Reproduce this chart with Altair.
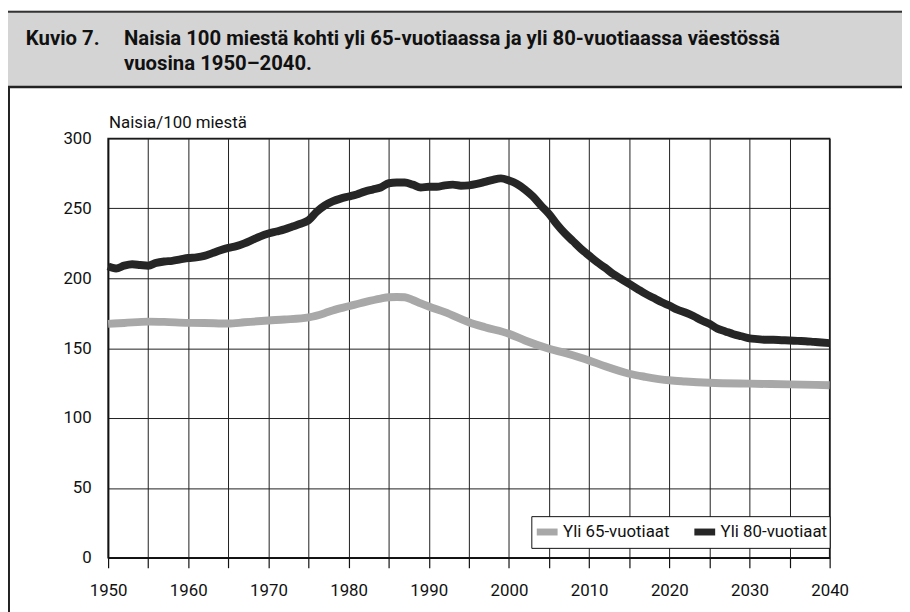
import altair as alt
import pandas as pd

# ---- data ----
years_80 = list(range(1950, 2041))
vals_80 = [208.5, 207, 209, 210, 209.5, 209, 211, 212, 212.5, 213.5,
           214.5, 215, 216, 218, 220, 221.7, 223, 225, 227.5, 230,
           232, 233.5, 235, 237, 239, 241.5, 247.5, 252, 255, 257,
           258.5, 260, 262, 263.5, 265, 268, 268.5, 268.5, 267, 265,
           265.5, 265.5, 266.5, 267, 266.2, 266.5, 267.5, 269, 270.5, 271.5,
           270, 267.5, 263.5, 258.5, 252, 246, 238.5, 232, 226.5, 221,
           216.2, 211.5, 207.5, 203, 199.5, 196, 192.5, 189, 186, 183,
           180.5, 177.5, 175.5, 173, 170, 167.4, 164, 162, 160, 158.5,
           157, 156.5, 156, 156, 155.7, 155.5, 155.2, 155, 154.5, 154,
           153.6]

years_65 = [1950, 1952, 1955, 1957, 1960, 1962, 1965, 1967, 1970, 1972,
            1975, 1977, 1978, 1980, 1982, 1984, 1985, 1986, 1987, 1988,
            1989, 1990, 1992, 1995, 1997, 2000, 2002, 2005, 2007, 2010,
            2012, 2015, 2017, 2020, 2022, 2025, 2030, 2035, 2040]
vals_65 = [167.4, 168, 169, 168.8, 168.1, 168, 167.6, 168.5, 169.8, 170.5,
           172, 175, 177, 180, 183, 185.5, 186.4, 186.6, 186.4, 184.5,
           182, 179.8, 175.8, 168.6, 165, 160.3, 155.5, 149.6, 146.5, 141.2,
           137, 131.7, 129.5, 127, 126.2, 125.3, 124.6, 124.1, 123.5]

series_names = ["Yli 65-vuotiaat", "Yli 80-vuotiaat"]
series_colors = ["#a8a8a8", "#262626"]
x_ticks = list(range(1950, 2041, 5))
y_ticks = [0, 50, 100, 150, 200, 250, 300]

title_num = "Kuvio 7."
title_line1 = "Naisia 100 miestä kohti yli 65-vuotiaassa ja yli 80-vuotiaassa väestössä"
title_line2 = "vuosina 1950–2040."
y_title = "Naisia/100 miestä"

df = pd.concat([
    pd.DataFrame({"year": years_65, "value": vals_65, "series": series_names[0]}),
    pd.DataFrame({"year": years_80, "value": vals_80, "series": series_names[1]}),
], ignore_index=True)

one = pd.DataFrame({"k": [0]})
LABEL_FONT = "Roboto"
TITLE_FONT = "Roboto"

# ---- decorations (page frame & title banner) ----
banner = alt.Chart(one).mark_rect(color="#d4d4d4").encode(
    x=alt.value(-101), x2=alt.value(801), y=alt.value(-129), y2=alt.value(-52))
top_line = alt.Chart(one).mark_rule(color="#333333", strokeWidth=2).encode(
    x=alt.value(-101), x2=alt.value(801), y=alt.value(-128))
bottom_line = alt.Chart(one).mark_rule(color="#222222", strokeWidth=2.5).encode(
    x=alt.value(-101), x2=alt.value(801), y=alt.value(-52))
left_frame = alt.Chart(one).mark_rule(color="#222222", strokeWidth=2).encode(
    x=alt.value(-100), y=alt.value(-52), y2=alt.value(480))

t_num = alt.Chart(one).mark_text(
    font=TITLE_FONT, fontSize=20.5, fontWeight="bold", align="left", baseline="alphabetic", color="#111111"
).encode(text=alt.value(title_num), x=alt.value(-83), y=alt.value(-94.3))
t_l1 = alt.Chart(one).mark_text(
    font=TITLE_FONT, fontSize=20.5, fontWeight="bold", align="left", baseline="alphabetic", color="#111111"
).encode(text=alt.value(title_line1), x=alt.value(16), y=alt.value(-94.3))
t_l2 = alt.Chart(one).mark_text(
    font=TITLE_FONT, fontSize=20.5, fontWeight="bold", align="left", baseline="alphabetic", color="#111111"
).encode(text=alt.value(title_line2), x=alt.value(16), y=alt.value(-68.7))
t_y = alt.Chart(one).mark_text(
    font=LABEL_FONT, fontSize=17, align="left", baseline="alphabetic", color="#111111"
).encode(text=alt.value(y_title), x=alt.value(1), y=alt.value(-10.5))

# ---- data lines ----
lines = alt.Chart(df).mark_line(strokeWidth=8, strokeCap="butt", interpolate="monotone").encode(
    x=alt.X("year:Q",
            scale=alt.Scale(domain=[1950, 2040], nice=False, zero=False),
            axis=alt.Axis(values=x_ticks, format="d",
                          labelExpr="datum.value % 10 == 0 ? datum.label : ''",
                          labelFlush=False, labelOverlap=False,
                          title=None, tickSize=10, labelPadding=15,
                          grid=True)),
    y=alt.Y("value:Q",
            scale=alt.Scale(domain=[0, 300], nice=False),
            axis=alt.Axis(values=y_ticks, title=None, ticks=False, labelPadding=17,
                          labelFlush=False, grid=True)),
    color=alt.Color("series:N",
                    scale=alt.Scale(domain=series_names, range=series_colors),
                    legend=alt.Legend(title=None, orient="none", legendX=427, legendY=381,
                                      direction="horizontal", symbolType="stroke",
                                      symbolStrokeWidth=7, symbolSize=441,
                                      labelFont=LABEL_FONT, labelFontSize=17, labelColor="#111111",
                                      labelOffset=2, columnPadding=10,
                                      strokeColor="#111111", fillColor="white", padding=2,
                                      cornerRadius=0)),
)

chart = alt.layer(
    banner, top_line, bottom_line, left_frame, t_num, t_l1, t_l2, t_y, lines
).properties(
    width=728, height=423,
    autosize=alt.AutoSizeParams(type="none"),
    padding={"left": 101, "top": 129, "right": 73, "bottom": 52},
    background="white",
).configure_view(
    stroke="#1a1a1a", strokeWidth=1.5
).configure_axis(
    domainColor="#111111", domainWidth=1.5,
    gridColor="#1e1e1e", gridWidth=1, gridOpacity=1,
    tickColor="#111111", tickWidth=1.2,
    labelFont=LABEL_FONT, labelFontSize=17, labelColor="#111111",
)

chart.save("out.html", embed_options={"renderer": "svg", "actions": False})
